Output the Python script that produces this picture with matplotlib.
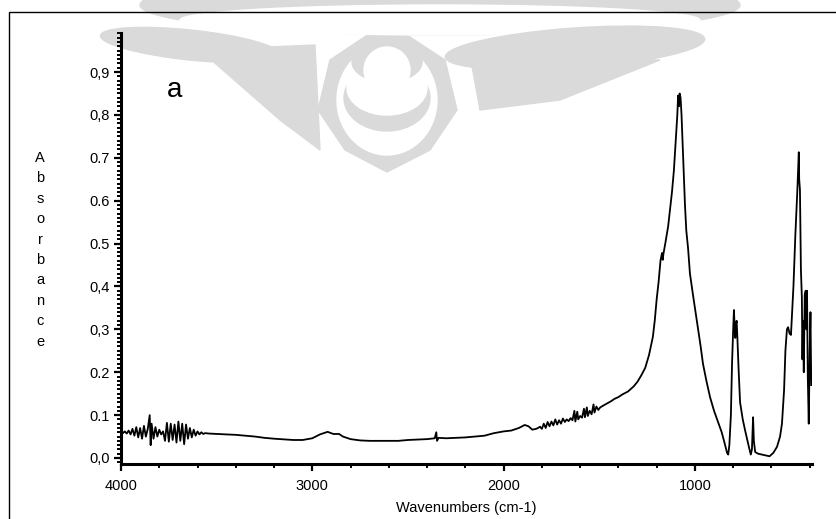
import matplotlib.pyplot as plt
from matplotlib.ticker import MultipleLocator, FixedLocator
from matplotlib.patches import Rectangle, Ellipse, Circle, Polygon

# FTIR spectrum (wavenumber cm-1, absorbance)
wavenumbers = [
    4000, 3990, 3980, 3970, 3960, 3950, 3940, 3930, 3920, 3910,
    3900, 3890, 3880, 3870, 3860, 3850, 3845, 3840, 3830, 3820,
    3810, 3800, 3790, 3780, 3770, 3760, 3750, 3740, 3730, 3720,
    3710, 3700, 3690, 3680, 3670, 3660, 3650, 3640, 3630, 3620,
    3610, 3600, 3590, 3580, 3570, 3560, 3540, 3500, 3450, 3400,
    3300, 3250, 3200, 3100, 3050, 3000, 2960, 2920, 2890, 2860,
    2840, 2800, 2750, 2700, 2600, 2550, 2500, 2450, 2400, 2360,
    2352, 2348, 2340, 2300, 2200, 2100, 2050, 2000, 1960, 1920,
    1890, 1870, 1850, 1830, 1820, 1810, 1800, 1790, 1780, 1770,
    1760, 1750, 1740, 1730, 1720, 1710, 1700, 1690, 1680, 1670,
    1660, 1650, 1640, 1630, 1625, 1615, 1610, 1600, 1590, 1580,
    1575, 1565, 1560, 1550, 1540, 1530, 1525, 1515, 1505, 1495,
    1480, 1460, 1440, 1420, 1400, 1380, 1350, 1320, 1300, 1280,
    1260, 1240, 1220, 1210, 1200, 1190, 1180, 1172, 1168, 1165,
    1155, 1140, 1130, 1120, 1110, 1100, 1092, 1088, 1084, 1080,
    1075, 1070, 1065, 1060, 1052, 1045, 1036, 1026, 1010, 990,
    970, 958, 940, 921, 900, 880, 860, 845, 832, 826,
    820, 812, 806, 800, 796, 792, 789, 786, 782, 778,
    772, 764, 750, 738, 720, 708, 702, 696, 692, 685,
    670, 650, 630, 610, 590, 571, 555, 545, 534, 527,
    519, 513, 505, 498, 492, 485, 475, 465, 460, 457,
    455, 451, 448, 446, 441, 438, 435, 431, 426, 421,
    417, 414, 410, 405, 400, 396, 392,
]
absorbance = [
    0.060, 0.058, 0.062, 0.057, 0.064, 0.055, 0.068, 0.052, 0.072, 0.048,
    0.070, 0.045, 0.075, 0.050, 0.068, 0.100, 0.030, 0.080, 0.045, 0.072,
    0.050, 0.066, 0.055, 0.062, 0.040, 0.082, 0.038, 0.080, 0.042, 0.078,
    0.036, 0.085, 0.040, 0.080, 0.032, 0.078, 0.045, 0.070, 0.048, 0.066,
    0.052, 0.062, 0.055, 0.060, 0.056, 0.058, 0.057, 0.056, 0.055, 0.054,
    0.050, 0.047, 0.045, 0.042, 0.042, 0.046, 0.055, 0.061, 0.056, 0.056,
    0.050, 0.044, 0.041, 0.040, 0.040, 0.040, 0.042, 0.043, 0.044, 0.046,
    0.060, 0.040, 0.047, 0.046, 0.048, 0.052, 0.058, 0.062, 0.064, 0.070,
    0.077, 0.074, 0.066, 0.068, 0.070, 0.073, 0.068, 0.080, 0.070, 0.084,
    0.074, 0.085, 0.076, 0.090, 0.078, 0.088, 0.080, 0.092, 0.084, 0.090,
    0.086, 0.093, 0.088, 0.110, 0.085, 0.108, 0.090, 0.098, 0.094, 0.115,
    0.095, 0.118, 0.098, 0.110, 0.102, 0.125, 0.106, 0.120, 0.112, 0.118,
    0.122, 0.127, 0.132, 0.138, 0.142, 0.148, 0.155, 0.167, 0.178, 0.193,
    0.210, 0.240, 0.282, 0.320, 0.370, 0.410, 0.460, 0.478, 0.462, 0.475,
    0.500, 0.540, 0.580, 0.620, 0.670, 0.740, 0.800, 0.845, 0.820, 0.850,
    0.840, 0.800, 0.740, 0.680, 0.590, 0.530, 0.490, 0.430, 0.380, 0.320,
    0.260, 0.220, 0.180, 0.142, 0.110, 0.085, 0.060, 0.035, 0.012, 0.008,
    0.030, 0.100, 0.220, 0.300, 0.345, 0.300, 0.280, 0.310, 0.320, 0.280,
    0.210, 0.130, 0.090, 0.065, 0.030, 0.008, 0.020, 0.095, 0.040, 0.014,
    0.010, 0.008, 0.006, 0.004, 0.012, 0.026, 0.050, 0.080, 0.158, 0.250,
    0.300, 0.305, 0.290, 0.287, 0.340, 0.400, 0.520, 0.620, 0.680, 0.713,
    0.650, 0.625, 0.500, 0.440, 0.375, 0.230, 0.320, 0.200, 0.380, 0.390,
    0.300, 0.390, 0.190, 0.080, 0.250, 0.340, 0.170,
]

y_ticks = [0.0, 0.1, 0.2, 0.3, 0.4, 0.5, 0.6, 0.7, 0.8, 0.9]
y_labels = ['0,0', '0.1', '0.2', '0,3', '0,4', '0.5', '0.6', '0.7', '0,8', '0,9']
x_ticks = [4000, 3000, 2000, 1000]
x_labels = ['4000', '3000', '2000', '1000']

plt.rcParams['font.family'] = ['Liberation Sans', 'DejaVu Sans']

W, H = 837, 519
fig = plt.figure(figsize=(W / 100, H / 100), dpi=100)

# pale logo watermark behind everything (pixel coords, y down)
wm = fig.add_axes([0, 0, 1, 1], zorder=0)
wm.set_xlim(0, W)
wm.set_ylim(H, 0)
wm.axis('off')
grey = '#dadada'
# drop-shaped ring
wm.add_patch(Polygon([(318, 110), (330, 60), (387, 22), (445, 60), (457, 110),
                      (430, 150), (387, 172), (345, 150)], closed=True, color=grey))
wm.add_patch(Ellipse((387, 100), 100, 110, color='white'))
wm.add_patch(Ellipse((387, 98), 86, 66, color=grey))
wm.add_patch(Ellipse((387, 88), 80, 54, color='white'))
wm.add_patch(Circle((387, 70), 23, color='white'))
wm.add_patch(Ellipse((387, 62), 70, 40, color=grey))
wm.add_patch(Circle((387, 70), 23, color='white'))
# wings
wm.add_patch(Ellipse((440, 5), 600, 60, color=grey))
wm.add_patch(Ellipse((440, 20), 520, 30, color='white'))
wm.add_patch(Ellipse((575, 48), 260, 40, angle=-4, color=grey))
wm.add_patch(Polygon([(470, 55), (660, 60), (560, 100), (480, 110)], closed=True, color=grey))
wm.add_patch(Polygon([(200, 50), (315, 45), (320, 150), (280, 120)], closed=True, color=grey))
wm.add_patch(Ellipse((190, 45), 180, 30, angle=6, color=grey))

# outer frame
fig.add_artist(Rectangle((9 / W, -0.1), 1.2, 1 - 12 / H + 0.1, transform=fig.transFigure,
                         fill=False, edgecolor='black', linewidth=1.0, zorder=1))

ax = fig.add_axes([121 / W, 1 - 464 / H, (812 - 121) / W, (464 - 33) / H], zorder=2)
ax.patch.set_alpha(0)
ax.plot(wavenumbers, absorbance, color='black', linewidth=1.3)

ax.set_xlim(4000, 388)
ax.set_ylim(-0.014, 0.991)

for side in ['top', 'right']:
    ax.spines[side].set_visible(False)
for side in ['left', 'bottom']:
    ax.spines[side].set_linewidth(2.2)

ax.xaxis.set_major_locator(FixedLocator(x_ticks))
ax.set_xticklabels(x_labels)
ax.xaxis.set_minor_locator(MultipleLocator(200))
ax.yaxis.set_major_locator(FixedLocator(y_ticks))
ax.set_yticklabels(y_labels)
ax.yaxis.set_minor_locator(MultipleLocator(0.01))
ax.tick_params(which='major', direction='out', length=5, width=1.6, labelsize=10.5, pad=3)
ax.tick_params(axis='x', which='major', pad=6)
ax.tick_params(which='minor', direction='out', length=3, width=1.4)

fig.text(466 / W, 1 - 508 / H, 'Wavenumbers (cm-1)', fontsize=10.5, ha='center', va='center')

for i, ch in enumerate('Absorbance'):
    fig.text(40 / W, 1 - (158 + i * 20.4) / H, ch, fontsize=10.5, ha='center', va='center')

fig.text(175 / W, 1 - 90 / H, 'a', fontsize=20, ha='center', va='center')

fig.savefig('out.png', dpi=100)
